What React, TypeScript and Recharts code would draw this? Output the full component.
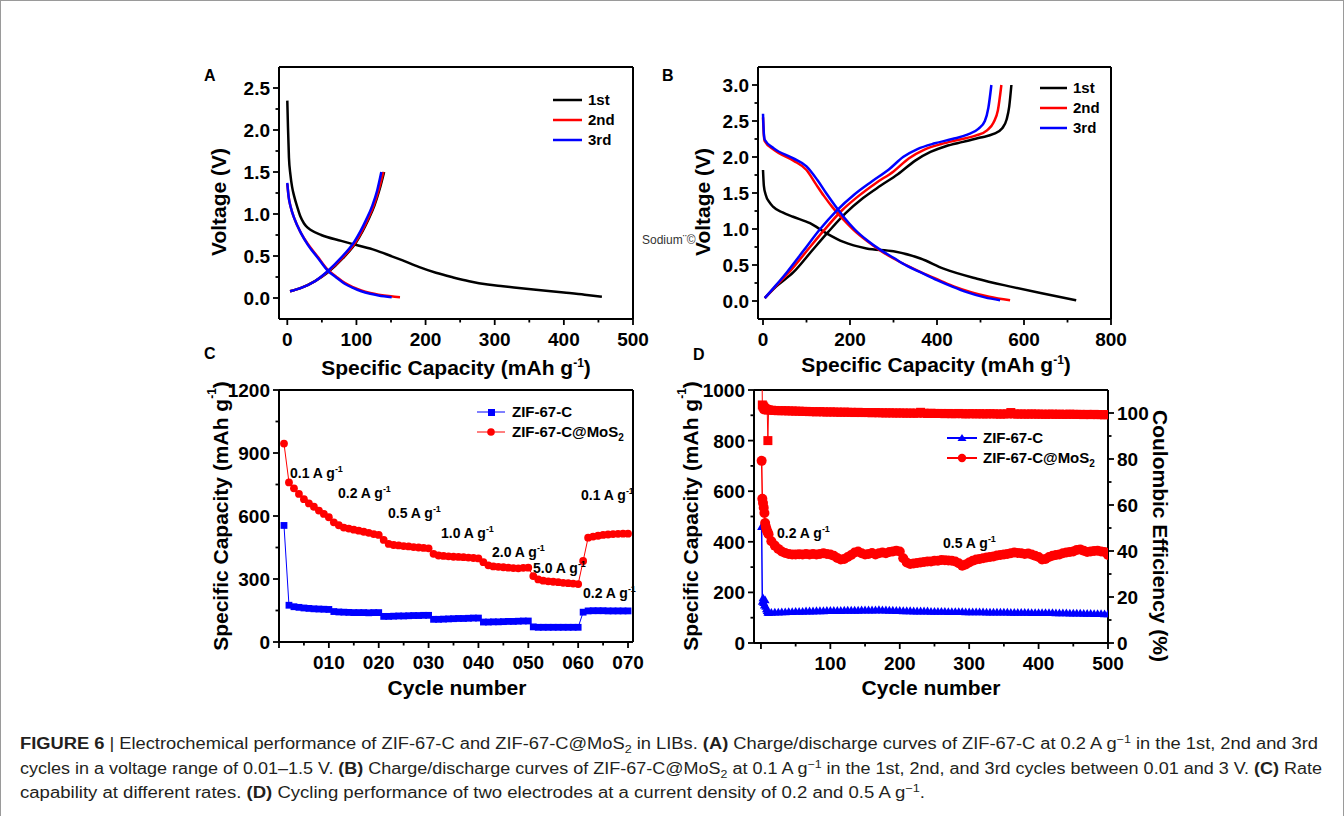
import React from "react";
import { LineChart, Line, XAxis, YAxis, ReferenceLine } from "recharts";

const FONT = '"Liberation Sans", Arial, Helvetica, sans-serif';
const CAP_FONT = '"Liberation Sans Narrow", "Liberation Sans", Arial, sans-serif';
const INK = "#000000";
const RED = "#ff0000";
const BLUE = "#0000ff";

type Pt = [number, number];

// ---------- (A) ZIF-67-C, charge/discharge, 1st-3rd cycle ----------
const aDis1: Pt[] = [
  [0, 2.35], [1, 2.03], [2.4, 1.67], [4.5, 1.47], [7, 1.32], [10, 1.21], [14.6, 1.08], [19, 0.97],
  [24, 0.89], [29, 0.84], [34, 0.81], [49, 0.75], [78, 0.68], [100, 0.63], [127, 0.57], [150, 0.5],
  [166, 0.45], [190, 0.37], [215, 0.3], [240, 0.245], [263, 0.2], [290, 0.16], [312, 0.14],
  [356, 0.1], [400, 0.065], [430, 0.04], [455, 0.015],
];
const aChg1: Pt[] = [
  [4, 0.08], [20, 0.12], [40, 0.2], [58, 0.3], [80, 0.47], [100, 0.67], [117, 0.93], [126, 1.1],
  [133, 1.28], [140, 1.5],
];
const aDis2: Pt[] = [
  [0, 1.36], [2, 1.2], [5, 1.08], [10, 0.95], [20, 0.77], [30, 0.64], [44, 0.49], [58, 0.34],
  [70, 0.26], [83, 0.18], [95, 0.13], [107, 0.09], [120, 0.06], [132, 0.04], [150, 0.02], [163, 0.01],
];
const aChg2: Pt[] = [
  [4, 0.08], [20, 0.12], [40, 0.2], [58, 0.31], [80, 0.48], [99, 0.67], [116, 0.93], [125, 1.1],
  [132, 1.28], [139, 1.5],
];
const aDis3: Pt[] = [
  [0, 1.37], [2, 1.2], [5, 1.08], [10, 0.95], [20, 0.77], [30, 0.63], [44, 0.48], [58, 0.33],
  [70, 0.25], [83, 0.17], [95, 0.12], [107, 0.08], [120, 0.05], [132, 0.03], [151, 0.01],
];
const aChg3: Pt[] = [
  [4, 0.08], [20, 0.12], [40, 0.2], [57, 0.31], [78, 0.48], [97, 0.67], [114, 0.93], [123, 1.1],
  [130, 1.28], [136, 1.5],
];
const aXTicks = [0, 50, 100, 150, 200, 250, 300, 350, 400, 450, 500];
const aXMajor = [0, 100, 200, 300, 400, 500];
const aYTicks = [0, 0.25, 0.5, 0.75, 1, 1.25, 1.5, 1.75, 2, 2.25, 2.5];
const aYMajor = [0, 0.5, 1, 1.5, 2, 2.5];

// ---------- (B) ZIF-67-C@MoS2, charge/discharge ----------
const bDis1: Pt[] = [
  [0, 1.82], [2, 1.6], [6, 1.48], [15, 1.37], [23, 1.31], [45, 1.23], [69, 1.17], [108, 1.08],
  [146, 0.94], [185, 0.82], [238, 0.73], [300, 0.69], [362, 0.59], [415, 0.45], [492, 0.31],
  [569, 0.2], [638, 0.11], [720, 0.01],
];
const bChg1: Pt[] = [
  [4, 0.04], [30, 0.2], [70, 0.4], [110, 0.68], [150, 0.96], [190, 1.22], [230, 1.43], [270, 1.6],
  [310, 1.76], [350, 1.95], [385, 2.07], [420, 2.15], [460, 2.21], [500, 2.27], [530, 2.32],
  [550, 2.4], [560, 2.52], [566, 2.7], [571, 3.0],
];
const bDis2: Pt[] = [
  [0, 2.55], [2, 2.3], [4, 2.22], [25, 2.1], [70, 1.95], [100, 1.82], [122, 1.62], [140, 1.46],
  [160, 1.3], [185, 1.13], [208, 0.99], [240, 0.83], [270, 0.7], [300, 0.59], [335, 0.48],
  [370, 0.38], [405, 0.29], [440, 0.2], [480, 0.12], [520, 0.06], [568, 0.01],
];
const bChg2: Pt[] = [
  [4, 0.04], [30, 0.21], [60, 0.4], [100, 0.69], [140, 0.98], [180, 1.25], [220, 1.46], [260, 1.64],
  [300, 1.8], [335, 1.98], [370, 2.1], [410, 2.18], [450, 2.24], [490, 2.3], [515, 2.37],
  [530, 2.48], [540, 2.65], [548, 3.0],
];
const bDis3: Pt[] = [
  [0, 2.6], [2, 2.32], [4, 2.24], [25, 2.12], [70, 1.98], [100, 1.87], [125, 1.68], [145, 1.5],
  [165, 1.33], [188, 1.15], [210, 1.0], [240, 0.84], [270, 0.71], [300, 0.6], [330, 0.49],
  [365, 0.39], [400, 0.29], [435, 0.2], [470, 0.12], [510, 0.05], [545, 0.01],
];
const bChg3: Pt[] = [
  [4, 0.04], [30, 0.22], [55, 0.4], [92, 0.69], [130, 0.99], [170, 1.26], [210, 1.48], [250, 1.66],
  [290, 1.83], [322, 2.0], [355, 2.11], [395, 2.19], [435, 2.25], [470, 2.31], [495, 2.39],
  [510, 2.5], [518, 2.68], [525, 3.0],
];
const bXTicks = [0, 100, 200, 300, 400, 500, 600, 700, 800];
const bXMajor = [0, 200, 400, 600, 800];
const bYTicks = [0, 0.25, 0.5, 0.75, 1, 1.25, 1.5, 1.75, 2, 2.25, 2.5, 2.75, 3];
const bYMajor = [0, 0.5, 1, 1.5, 2, 2.5, 3];

// ---------- (C) rate capability ----------
const cCycles = [
  1, 2, 3, 4, 5, 6, 7, 8, 9, 10, 11, 12, 13, 14, 15, 16, 17, 18, 19, 20,
  21, 22, 23, 24, 25, 26, 27, 28, 29, 30, 31, 32, 33, 34, 35, 36, 37, 38, 39, 40,
  41, 42, 43, 44, 45, 46, 47, 48, 49, 50, 51, 52, 53, 54, 55, 56, 57, 58, 59, 60,
  61, 62, 63, 64, 65, 66, 67, 68, 69, 70,
];
const cZif = [
  555, 175, 168, 165, 162, 160, 158, 157, 156, 155,
  145, 143, 142, 141, 140, 140, 140, 139, 140, 140,
  122, 122, 123, 124, 124, 125, 126, 126, 127, 127,
  108, 108, 109, 110, 111, 112, 112, 113, 114, 114,
  95, 95, 96, 96, 97, 98, 98, 99, 100, 100,
  72, 70, 70, 70, 70, 70, 70, 70, 70, 70,
  142, 148, 149, 149, 149, 148, 148, 148, 148, 148,
];
const cMos = [
  945, 760, 732, 705, 680, 660, 644, 626, 610, 594,
  570, 556, 545, 540, 535, 530, 525, 520, 514, 510,
  486, 467, 462, 460, 457, 455, 452, 450, 448, 446,
  420, 412, 410, 408, 406, 405, 404, 402, 400, 398,
  380, 365, 360, 358, 356, 354, 352, 351, 353, 354,
  314, 298, 292, 289, 287, 285, 282, 280, 278, 276,
  386, 497, 502, 506, 510, 512, 514, 515, 516, 516,
];
const cRateLabels = ["0.1", "0.2", "0.5", "1.0", "2.0", "5.0", "0.1", "0.2"];
const cXTicks = [0, 5, 10, 15, 20, 25, 30, 35, 40, 45, 50, 55, 60, 65, 70];
const cXMajor = [0, 10, 20, 30, 40, 50, 60, 70];
const cYTicks = [0, 150, 300, 450, 600, 750, 900, 1050, 1200];
const cYMajor = [0, 300, 600, 900, 1200];

// ---------- (D) long cycling ----------
const dCycles = [
  1, 2, 3, 4, 5, 6, 7, 8, 9, 10, 11,
  15, 20, 25, 30, 35, 40, 45, 50,
  55, 60, 65, 70, 75, 80, 85, 90, 95, 100,
  105, 110, 115, 120, 125, 130, 135, 140, 145, 150,
  155, 160, 165, 170, 175, 180, 185, 190, 195, 200,
  205, 210, 215, 220, 225, 230, 235, 240, 245, 250,
  255, 260, 265, 270, 275, 280, 285, 290, 295, 300,
  305, 310, 315, 320, 325, 330, 335, 340, 345, 350,
  355, 360, 365, 370, 375, 380, 385, 390, 395, 400,
  405, 410, 415, 420, 425, 430, 435, 440, 445, 450,
  455, 460, 465, 470, 475, 480, 485, 490, 495, 500,
];
const dMos = [
  720, 570, 553, 535, 514, 474, 460, 450, 442, 436, 430,
  402, 385, 372, 362, 356, 352, 350, 350,
  351, 350, 352, 350, 352, 350, 352, 355, 352, 350,
  345, 336, 330, 332, 340, 348, 358, 362, 355, 350,
  352, 356, 350, 355, 358, 355, 360, 362, 365, 362,
  335, 318, 312, 314, 316, 318, 320, 322, 322, 325,
  325, 328, 327, 326, 325, 322, 315, 305, 310, 318,
  325, 330, 332, 335, 338, 340, 342, 346, 348, 350,
  352, 355, 358, 356, 355, 352, 354, 350, 345, 340,
  330, 332, 340, 345, 348, 350, 355, 358, 360, 362,
  368, 370, 365, 360, 362, 364, 365, 362, 360, 348,
];
const dZif = [
  460, 165, 178, 160, 150, 170, 145, 135, 128, 122, 120,
  121, 122, 122, 123, 123, 124, 124, 125,
  125, 125, 126, 126, 126, 127, 127, 127, 128, 128,
  128, 128, 128, 129, 129, 129, 129, 129, 130, 130,
  130, 130, 130, 131, 130, 130, 129, 129, 128, 128,
  127, 127, 127, 126, 126, 126, 126, 126, 125, 125,
  125, 125, 125, 124, 124, 124, 124, 124, 123, 123,
  123, 123, 123, 123, 122, 122, 122, 122, 122, 122,
  122, 121, 121, 121, 121, 121, 121, 120, 120, 120,
  120, 120, 120, 120, 119, 119, 119, 119, 118, 118,
  118, 118, 117, 117, 117, 116, 116, 116, 115, 115,
];
const dCE = [
  140, 103.5, 103, 102.5, 102, 101.8, 101.6, 101.5, 101.4, 88, 101.3,
  101.2, 101.1, 101, 101, 101, 100.9, 100.9, 100.8,
  100.8, 100.7, 100.7, 100.6, 100.6, 100.5, 100.6, 100.5, 100.4, 100.5,
  100.4, 100.4, 100.3, 100.4, 100.3, 100.3, 100.2, 100.3, 100.2, 100.2,
  100.2, 100.1, 100.2, 100.1, 100.1, 100, 100.1, 100, 100, 100,
  100, 99.9, 100, 99.9, 99.9, 100.3, 99.9, 99.8, 99.9, 99.8,
  99.8, 99.8, 99.7, 99.8, 99.7, 99.7, 99.8, 99.7, 99.6, 99.7,
  99.7, 99.6, 99.7, 99.6, 99.6, 99.7, 99.6, 99.6, 99.5, 99.6,
  99.6, 100.2, 99.6, 99.5, 99.6, 99.5, 99.5, 99.6, 99.5, 99.5,
  99.5, 99.4, 99.5, 99.5, 99.4, 99.5, 99.4, 99.4, 99.5, 99.4,
  99.4, 99.4, 99.3, 99.4, 99.3, 99.4, 99.3, 99.3, 99.2, 99.3,
];
const dRateLabels = ["0.2", "0.5"];
const dXTicks = [0, 50, 100, 150, 200, 250, 300, 350, 400, 450, 500];
const dXMajor = [0, 100, 200, 300, 400, 500];
const dYTicks = [0, 100, 200, 300, 400, 500, 600, 700, 800, 900, 1000];
const dYMajor = [0, 200, 400, 600, 800, 1000];
const dRTicks = [0, 10, 20, 30, 40, 50, 60, 70, 80, 90, 100];
const dRMajor = [0, 20, 40, 60, 80, 100];

const seriesNames = ["ZIF-67-C", "ZIF-67-C@MoS"];
const cycleNames = ["1st", "2nd", "3rd"];

// ---------- helpers ----------
const toXY = (pts: Pt[]) => pts.map(([x, y]) => ({ x, y }));

const cRows = cCycles.map((cycle, i) => ({ cycle, zif: cZif[i], mos: cMos[i] }));
const dRows = dCycles.map((cycle, i) => ({ cycle, zif: dZif[i], mos: dMos[i], ce: dCE[i] }));

const tickText = { fontFamily: FONT, fontWeight: 700, fontSize: 19, fill: INK };
const axisLine = { stroke: INK, strokeWidth: 2 };

type Orient = "bottom" | "left" | "right";

function axisTick(orient: Orient, majors: number[], fmt: (v: number) => string) {
  return (props: any) => {
    const { x, y, payload } = props;
    const v = Number(payload.value);
    const major = majors.some((m) => Math.abs(m - v) < 1e-6);
    const len = major ? 6 : 3.5;
    const label = major ? fmt(v) : "";
    if (orient === "bottom") {
      return (
        <g>
          <line x1={x} x2={x} y1={y} y2={y + len} stroke={INK} strokeWidth={1.8} />
          {label ? (
            <text x={x} y={y + 27} textAnchor="middle" {...tickText}>
              {label}
            </text>
          ) : null}
        </g>
      );
    }
    if (orient === "left") {
      return (
        <g>
          <line x1={x - len} x2={x} y1={y} y2={y} stroke={INK} strokeWidth={1.8} />
          {label ? (
            <text x={x - 9} y={y + 7} textAnchor="end" {...tickText}>
              {label}
            </text>
          ) : null}
        </g>
      );
    }
    return (
      <g>
        <line x1={x} x2={x + len} y1={y} y2={y} stroke={INK} strokeWidth={1.8} />
        {label ? (
          <text x={x + 9} y={y + 7} textAnchor="start" {...tickText}>
            {label}
          </text>
        ) : null}
      </g>
    );
  };
}

const squareDot = (color: string, s: number) => (p: any) =>
  p.cx == null || p.cy == null ? (
    <g key={`sq-${p.index}`} />
  ) : (
    <rect key={`sq-${p.index}`} x={p.cx - s} y={p.cy - s} width={2 * s} height={2 * s} fill={color} />
  );

const triangleDot = (color: string, s: number) => (p: any) =>
  p.cx == null || p.cy == null ? (
    <g key={`tr-${p.index}`} />
  ) : (
    <path
      key={`tr-${p.index}`}
      d={`M${p.cx},${p.cy - s} L${p.cx + s},${p.cy + s * 0.75} L${p.cx - s},${p.cy + s * 0.75} Z`}
      fill={color}
    />
  );

const curveProps = { type: "monotone" as const, dataKey: "y", dot: false, activeDot: false, strokeWidth: 2.5, isAnimationActive: false };

const oneDecimal = (v: number) => v.toFixed(1);
const plain = (v: number) => String(v);
const noZero = (v: number) => (v === 0 ? "" : String(v));
const originCycle = (v: number) => (v === 0 ? "" : "0" + v);

// ---------- panels ----------
function PanelA() {
  return (
    <div style={{ position: "absolute", left: 200, top: 57 }}>
      <LineChart width={453} height={297} margin={{ top: 10, right: 20, bottom: 0, left: 0 }}>
        <XAxis dataKey="x" type="number" domain={[-12, 500]} ticks={aXTicks} interval={0} height={35}
          tickSize={0} tickMargin={0} tickLine={false} axisLine={axisLine} allowDataOverflow
          tick={axisTick("bottom", aXMajor, plain)} />
        <YAxis type="number" domain={[-0.25, 2.75]} ticks={aYTicks} interval={0} width={79}
          tickSize={0} tickMargin={0} tickLine={false} axisLine={axisLine} allowDataOverflow
          tick={axisTick("left", aYMajor, oneDecimal)} />
        <ReferenceLine y={2.75} stroke={INK} strokeWidth={2} />
        <ReferenceLine x={500} stroke={INK} strokeWidth={2} />
        <Line data={toXY(aDis1)} stroke={INK} {...curveProps} />
        <Line data={toXY(aChg1)} stroke={INK} {...curveProps} />
        <Line data={toXY(aDis2)} stroke={RED} {...curveProps} />
        <Line data={toXY(aChg2)} stroke={RED} {...curveProps} />
        <Line data={toXY(aDis3)} stroke={BLUE} {...curveProps} />
        <Line data={toXY(aChg3)} stroke={BLUE} {...curveProps} />
      </LineChart>
    </div>
  );
}

function PanelB() {
  return (
    <div style={{ position: "absolute", left: 680, top: 57 }}>
      <LineChart width={451} height={297} margin={{ top: 10, right: 20, bottom: 0, left: 0 }}>
        <XAxis dataKey="x" type="number" domain={[-11.5, 800]} ticks={bXTicks} interval={0} height={35}
          tickSize={0} tickMargin={0} tickLine={false} axisLine={axisLine} allowDataOverflow
          tick={axisTick("bottom", bXMajor, plain)} />
        <YAxis type="number" domain={[-0.25, 3.25]} ticks={bYTicks} interval={0} width={78}
          tickSize={0} tickMargin={0} tickLine={false} axisLine={axisLine} allowDataOverflow
          tick={axisTick("left", bYMajor, oneDecimal)} />
        <ReferenceLine y={3.25} stroke={INK} strokeWidth={2} />
        <ReferenceLine x={800} stroke={INK} strokeWidth={2} />
        <Line data={toXY(bDis1)} stroke={INK} {...curveProps} />
        <Line data={toXY(bChg1)} stroke={INK} {...curveProps} />
        <Line data={toXY(bDis2)} stroke={RED} {...curveProps} />
        <Line data={toXY(bChg2)} stroke={RED} {...curveProps} />
        <Line data={toXY(bDis3)} stroke={BLUE} {...curveProps} />
        <Line data={toXY(bChg3)} stroke={BLUE} {...curveProps} />
      </LineChart>
    </div>
  );
}

function PanelC() {
  return (
    <div style={{ position: "absolute", left: 200, top: 380 }}>
      <LineChart width={453} height={297} data={cRows} margin={{ top: 10, right: 20, bottom: 0, left: 0 }}>
        <XAxis dataKey="cycle" type="number" domain={[0, 71]} ticks={cXTicks} interval={0} height={35}
          tickSize={0} tickMargin={0} tickLine={false} axisLine={axisLine} allowDataOverflow
          tick={axisTick("bottom", cXMajor, originCycle)} />
        <YAxis type="number" domain={[0, 1200]} ticks={cYTicks} interval={0} width={79}
          tickSize={0} tickMargin={0} tickLine={false} axisLine={axisLine} allowDataOverflow
          tick={axisTick("left", cYMajor, plain)} />
        <ReferenceLine y={1200} stroke={INK} strokeWidth={2} />
        <ReferenceLine x={71} stroke={INK} strokeWidth={2} />
        <Line dataKey="zif" type="linear" stroke={BLUE} strokeWidth={1} isAnimationActive={false}
          activeDot={false} dot={squareDot(BLUE, 3.4)} />
        <Line dataKey="mos" type="linear" stroke={RED} strokeWidth={1} isAnimationActive={false}
          activeDot={false} dot={{ r: 3.9, fill: RED, stroke: RED, strokeWidth: 0 }} />
      </LineChart>
    </div>
  );
}

function PanelD() {
  return (
    <div style={{ position: "absolute", left: 680, top: 380 }}>
      <LineChart width={478} height={298} data={dRows} margin={{ top: 10, right: 0, bottom: 0, left: 0 }}>
        <XAxis dataKey="cycle" type="number" domain={[-10, 500]} ticks={dXTicks} interval={0} height={35}
          tickSize={0} tickMargin={0} tickLine={false} axisLine={axisLine} allowDataOverflow
          tick={axisTick("bottom", dXMajor, noZero)} />
        <YAxis yAxisId="cap" type="number" domain={[0, 1000]} ticks={dYTicks} interval={0} width={74}
          tickSize={0} tickMargin={0} tickLine={false} axisLine={axisLine} allowDataOverflow
          tick={axisTick("left", dYMajor, plain)} />
        <YAxis yAxisId="ce" orientation="right" type="number" domain={[0, 110]} ticks={dRTicks} interval={0}
          width={50} tickSize={0} tickMargin={0} tickLine={false} axisLine={axisLine} allowDataOverflow
          tick={axisTick("right", dRMajor, plain)} />
        <ReferenceLine yAxisId="cap" y={1000} stroke={INK} strokeWidth={2} />
        <Line yAxisId="ce" dataKey="ce" type="linear" stroke={RED} strokeWidth={1} isAnimationActive={false}
          activeDot={false} dot={squareDot(RED, 4.5)} />
        <Line yAxisId="cap" dataKey="zif" type="linear" stroke={BLUE} strokeWidth={1.5} isAnimationActive={false}
          activeDot={false} dot={triangleDot(BLUE, 4.5)} />
        <Line yAxisId="cap" dataKey="mos" type="linear" stroke={RED} strokeWidth={1.5} isAnimationActive={false}
          activeDot={false} dot={{ r: 5, fill: RED, stroke: RED, strokeWidth: 0 }} />
      </LineChart>
    </div>
  );
}

// ---------- text overlay ----------
const titleText = { fontFamily: FONT, fontWeight: 700, fontSize: 21, fill: INK };

function CapacityTitle() {
  return (
    <>
      Specific Capacity (mAh g<tspan dy={-8} fontSize={12}>-1</tspan>
      <tspan dy={8}>)</tspan>
    </>
  );
}

function Rate({ x, y, v }: { x: number; y: number; v: string }) {
  return (
    <text x={x} y={y} fontFamily={FONT} fontWeight={700} fontSize={14} fill={INK}>
      {v} A g<tspan dy={-6} fontSize={9}>-1</tspan>
    </text>
  );
}

function Overlay() {
  const legendText = { fontFamily: FONT, fontWeight: 700, fontSize: 15, fill: INK };
  const cycColors = [INK, RED, BLUE];
  const cRatePos = [
    [290, 478], [338, 498], [388, 518], [441, 538], [492, 557], [533, 573], [581, 500], [583, 598],
  ];
  const dRatePos = [[777, 538], [943, 548]];
  return (
    <svg width={1344} height={816} style={{ position: "absolute", left: 0, top: 0, pointerEvents: "none" }}>
      {/* panel letters */}
      <text x={204} y={81} {...titleText} fontSize={16}>A</text>
      <text x={662} y={81} {...titleText} fontSize={16}>B</text>
      <text x={204} y={359} {...titleText} fontSize={16}>C</text>
      <text x={693} y={360} {...titleText} fontSize={16}>D</text>

      {/* axis titles */}
      <text transform="translate(218,202) rotate(-90)" textAnchor="middle" dominantBaseline="central" {...titleText}>
        Voltage (V)
      </text>
      <text transform="translate(702,202) rotate(-90)" textAnchor="middle" dominantBaseline="central" {...titleText}>
        Voltage (V)
      </text>
      <text x={456} y={375} textAnchor="middle" {...titleText}>
        <CapacityTitle />
      </text>
      <text x={936} y={372} textAnchor="middle" {...titleText}>
        <CapacityTitle />
      </text>
      <text transform="translate(220,516) rotate(-90)" textAnchor="middle" dominantBaseline="central" {...titleText}>
        <CapacityTitle />
      </text>
      <text transform="translate(690,516) rotate(-90)" textAnchor="middle" dominantBaseline="central" {...titleText}>
        <CapacityTitle />
      </text>
      <text transform="translate(1160,536) rotate(90)" textAnchor="middle" dominantBaseline="central" {...titleText}>
        Coulombic Efficiency (%)
      </text>
      <text x={457} y={695} textAnchor="middle" {...titleText}>Cycle number</text>
      <text x={931} y={695} textAnchor="middle" {...titleText}>Cycle number</text>

      {/* stray label in the source figure */}
      <text x={642} y={244} fontFamily={FONT} fontSize={12} fill="#333">Sodium¨©</text>

      {/* legends A and B */}
      {cycleNames.map((n, i) => (
        <g key={`la-${n}`}>
          <line x1={553} x2={582} y1={100 + i * 20} y2={100 + i * 20} stroke={cycColors[i]} strokeWidth={2.5} />
          <text x={588} y={105 + i * 20} {...legendText}>{n}</text>
          <line x1={1040} x2={1067} y1={88 + i * 20} y2={88 + i * 20} stroke={cycColors[i]} strokeWidth={2.5} />
          <text x={1073} y={93 + i * 20} {...legendText}>{n}</text>
        </g>
      ))}

      {/* legend C */}
      <line x1={477} x2={505} y1={412} y2={412} stroke={BLUE} strokeWidth={1} />
      <rect x={488} y={409} width={7} height={7} fill={BLUE} />
      <text x={512} y={417} {...legendText}>{seriesNames[0]}</text>
      <line x1={477} x2={505} y1={432} y2={432} stroke={RED} strokeWidth={1} />
      <circle cx={491} cy={432} r={3.8} fill={RED} />
      <text x={512} y={437} {...legendText}>
        {seriesNames[1]}<tspan dy={4} fontSize={10}>2</tspan>
      </text>

      {/* legend D */}
      <line x1={947} x2={977} y1={438} y2={438} stroke={BLUE} strokeWidth={2} />
      <path d="M962,434 L966.5,441 L957.5,441 Z" fill={BLUE} />
      <text x={983} y={443} {...legendText}>{seriesNames[0]}</text>
      <line x1={947} x2={977} y1={458} y2={458} stroke={RED} strokeWidth={2} />
      <circle cx={962} cy={458} r={4.2} fill={RED} />
      <text x={983} y={463} {...legendText}>
        {seriesNames[1]}<tspan dy={4} fontSize={10}>2</tspan>
      </text>

      {/* rate annotations */}
      {cRateLabels.map((v, i) => (
        <Rate key={`cr-${i}`} x={cRatePos[i][0]} y={cRatePos[i][1]} v={v} />
      ))}
      {dRateLabels.map((v, i) => (
        <Rate key={`dr-${i}`} x={dRatePos[i][0]} y={dRatePos[i][1]} v={v} />
      ))}

      {/* caption */}
      <g fontFamily={CAP_FONT} fontSize={16} fill="#231f20">
        <text x={20} y={749} textLength={1298} lengthAdjust="spacingAndGlyphs">
          <tspan fontWeight={700}>FIGURE 6</tspan>
          {" | Electrochemical performance of ZIF-67-C and ZIF-67-C@MoS"}
          <tspan dy={4} fontSize={11}>2</tspan>
          <tspan dy={-4}>{" in LIBs. "}</tspan>
          <tspan fontWeight={700}>(A)</tspan>
          {" Charge/discharge curves of ZIF-67-C at 0.2 A g"}
          <tspan dy={-6} fontSize={11}>−1</tspan>
          <tspan dy={6}>{" in the 1st, 2nd and 3rd"}</tspan>
        </text>
        <text x={20} y={774} textLength={1302} lengthAdjust="spacingAndGlyphs">
          {"cycles in a voltage range of 0.01–1.5 V. "}
          <tspan fontWeight={700}>(B)</tspan>
          {" Charge/discharge curves of ZIF-67-C@MoS"}
          <tspan dy={4} fontSize={11}>2</tspan>
          <tspan dy={-4}>{" at 0.1 A g"}</tspan>
          <tspan dy={-6} fontSize={11}>−1</tspan>
          <tspan dy={6}>{" in the 1st, 2nd, and 3rd cycles between 0.01 and 3 V. "}</tspan>
          <tspan fontWeight={700}>(C)</tspan>
          {" Rate"}
        </text>
        <text x={20} y={798} textLength={905} lengthAdjust="spacingAndGlyphs">
          {"capability at different rates. "}
          <tspan fontWeight={700}>(D)</tspan>
          {" Cycling performance of two electrodes at a current density of 0.2 and 0.5 A g"}
          <tspan dy={-6} fontSize={11}>−1</tspan>
          <tspan dy={6}>.</tspan>
        </text>
      </g>
    </svg>
  );
}

export default function App() {
  return (
    <div style={{ position: "absolute", left: 0, top: 0, width: 1344, height: 816, background: "#fff", overflow: "hidden" }}>
      <div style={{ position: "absolute", left: 0, top: 0, width: 1342, height: 815, border: "1px solid #9a9a9a", borderBottom: "none" }} />
      <PanelA />
      <PanelB />
      <PanelC />
      <PanelD />
      <Overlay />
    </div>
  );
}
